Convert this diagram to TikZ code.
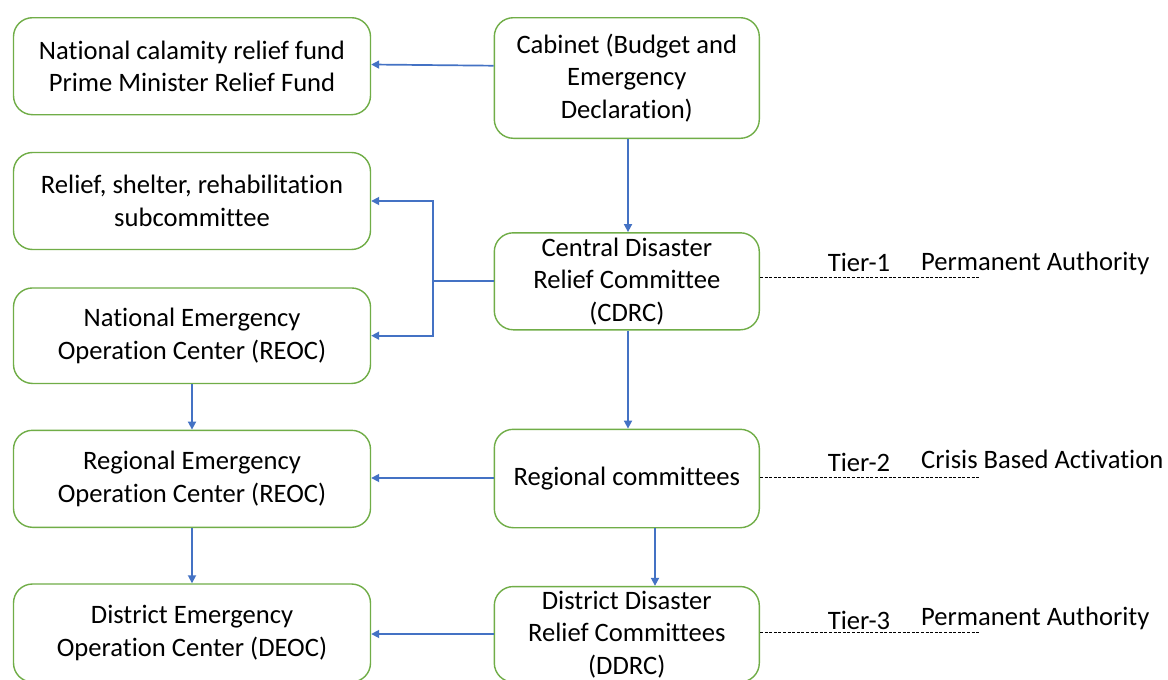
\documentclass[tikz,border=0pt]{standalone}
\usepackage{fontspec}
\setmainfont{Carlito}[Ligatures={NoCommon}]
\usetikzlibrary{arrows.meta}
\definecolor{boxgreen}{HTML}{70AD47}
\definecolor{linkblue}{HTML}{4472C4}
\begin{document}
\begin{tikzpicture}[x=1pt,y=-1pt,
  box/.style={draw=boxgreen,line width=1.4pt,fill=white,rounded corners=19pt,
    inner sep=0pt,align=center,font=\fontsize{26.6}{32.5}\selectfont},
  leftbox/.style={box,minimum width=357pt,minimum height=97pt},
  rightbox/.style={box,minimum width=265pt,minimum height=97pt},
  link/.style={draw=linkblue,line width=1.7pt,-{Triangle[length=8pt,width=8pt]}},
  plainlink/.style={draw=linkblue,line width=1.7pt},
  tierline/.style={draw=black,line width=0.9pt,dash pattern=on 3pt off 1.6pt},
  tiertext/.style={inner sep=0pt,font=\fontsize{26.6}{32.5}\selectfont}]
\useasboundingbox (0,0) rectangle (1168,680);
\fill[white] (0,0) rectangle (1168,680);

% left column
\node[leftbox] (fund) at (192,66.2) {National calamity relief fund\\Prime Minister Relief Fund};
\node[leftbox] (relief) at (192,201) {Relief, shelter, rehabilitation\\subcommittee};
\node[leftbox,minimum height=95.5pt] (neoc) at (192,335.7) {National Emergency\\Operation Center (REOC)};
\node[leftbox] (reoc) at (192,478.8) {Regional Emergency\\Operation Center (REOC)};
\node[leftbox,minimum height=98pt] (deoc) at (192,633) {District Emergency\\Operation Center (DEOC)};

% right column
\node[rightbox,minimum height=120.6pt] (cabinet) at (626.8,78) {Cabinet (Budget and\\Emergency\\Declaration)};
\node[rightbox] (cdrc) at (626.8,281.3) {Central Disaster\\Relief Committee\\(CDRC)};
\node[rightbox,minimum height=98.4pt] (regc) at (626.8,478.5) {Regional committees};
\node[rightbox,minimum height=95.5pt] (ddrc) at (626.8,634.3) {District Disaster\\Relief Committees\\(DDRC)};

% connector guide points
\coordinate (cx) at (628,0);
\coordinate (lx) at (192,0);
\coordinate (dx) at (655,0);
\coordinate (split) at (433,281);
\coordinate (ry) at (0,478);
\coordinate (dy) at (0,634);

% connectors
\draw[link] ([yshift=12.3pt]cabinet.west) -- ([yshift=1.7pt]fund.east);
\draw[link] (cabinet.south -| cx) -- (cdrc.north -| cx);
\draw[plainlink] (cdrc.west |- split) -- (split);
\draw[link] (split) |- (relief.east);
\draw[link] (split) |- (neoc.east);
\draw[link] (cdrc.south -| cx) -- (regc.north -| cx);
\draw[link] (regc.west |- ry) -- (reoc.east |- ry);
\draw[link] (regc.south -| dx) -- (ddrc.north -| dx);
\draw[link] (neoc.south -| lx) -- (reoc.north -| lx);
\draw[link] (reoc.south -| lx) -- (deoc.north -| lx);
\draw[link] (ddrc.west |- dy) -- (deoc.east |- dy);

% tiers
\coordinate (t1) at (980,277.7);
\coordinate (t2) at (980,477.7);
\coordinate (t3) at (980,632.7);
\draw[tierline] (cdrc.east |- t1) -- (t1);
\draw[tierline] (regc.east |- t2) -- (t2);
\draw[tierline] (ddrc.east |- t3) -- (t3);
\node[tiertext,anchor=base] (tier1) at (859,271.5) {Tier-1};
\node[tiertext,anchor=base] (tier2) at (859,471.5) {Tier-2};
\node[tiertext,anchor=base] (tier3) at (859,629) {Tier-3};
\node[tiertext,anchor=base west] (auth1) at (921,270) {Permanent Authority};
\node[tiertext,anchor=base west] (auth2) at (921,468.5) {Crisis Based Activation};
\node[tiertext,anchor=base west] (auth3) at (921,625.7) {Permanent Authority};
\end{tikzpicture}
\end{document}
